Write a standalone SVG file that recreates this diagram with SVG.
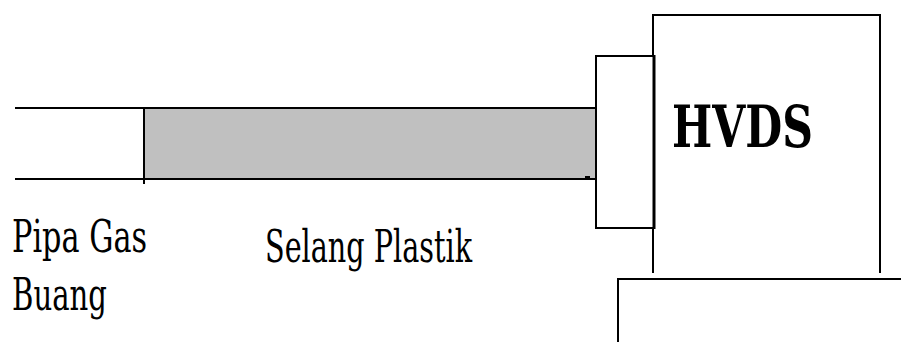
<svg xmlns="http://www.w3.org/2000/svg" width="901" height="342" viewBox="0 0 901 342">
<style>
.ln{stroke:#000;stroke-width:2;fill:none}
.lbl{font-family:'DejaVu Serif',serif;font-size:44px;fill:#000}
.big{font-family:'DejaVu Serif',serif;font-size:57px;font-weight:bold;fill:#000}
</style>
<rect width="901" height="342" fill="#fff"/>
<g id="pipa-gas">
<line class="ln" x1="15" y1="108" x2="144" y2="108"/>
<line class="ln" x1="15" y1="179" x2="144" y2="179"/>
</g>
<g id="selang-plastik">
<rect x="144" y="108" width="451" height="71" fill="#c0c0c0"/>
<line class="ln" x1="144" y1="108" x2="596" y2="108"/>
<line class="ln" x1="144" y1="179" x2="596" y2="179"/>
<line class="ln" x1="144" y1="108" x2="144" y2="184"/>
<rect x="585" y="176" width="5" height="3" fill="#000"/>
</g>
<g id="hvds">
<polyline class="ln" points="653,273 653,15 880,15 880,273"/>
<text class="big" x="672" y="147" textLength="141" lengthAdjust="spacingAndGlyphs">HVDS</text>
</g>
<g id="konektor">
<rect x="596" y="56" width="58" height="172" fill="#fff" stroke="#000" stroke-width="2"/>
<line x1="654" y1="55" x2="654" y2="229" stroke="#000" stroke-width="3"/>
</g>
<g id="base">
<polyline class="ln" points="618,342 618,279 901,279"/>
</g>
<g id="labels">
<text class="lbl" x="12" y="252" textLength="135" lengthAdjust="spacingAndGlyphs">Pipa Gas</text>
<text class="lbl" x="12" y="310" textLength="95" lengthAdjust="spacingAndGlyphs">Buang</text>
<text class="lbl" x="265" y="262" textLength="207" lengthAdjust="spacingAndGlyphs">Selang Plastik</text>
</g>
</svg>
